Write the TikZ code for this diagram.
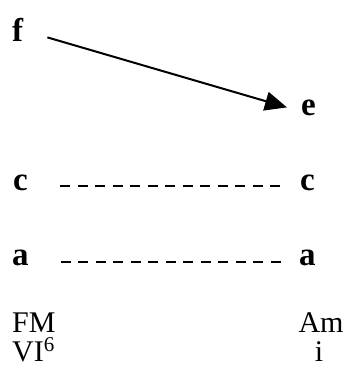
\documentclass[tikz,border=0pt]{standalone}
\usepackage{fontspec}
\setmainfont{Liberation Serif}
\usetikzlibrary{arrows.meta}
\tikzset{
  note/.style={inner sep=0pt,font=\fontsize{33}{36}\selectfont\bfseries},
  chord/.style={inner sep=0pt,font=\fontsize{30}{31}\selectfont},
  move/.style={line width=2pt,-{Triangle[length=22pt,width=19pt]}},
  hold/.style={line width=2.2pt,dash pattern=on 10pt off 7.5pt}
}
\begin{document}
\begin{tikzpicture}[x=1pt,y=-1pt]
        \useasboundingbox (0,0) rectangle (349,368);
        \node[note,anchor=base west] (f) at (12,41) {f};
        \node[note,anchor=base west] (e) at (301,115) {e};
        \node[note,anchor=base west] (cl) at (13,190) {c};
        \node[note,anchor=base west] (cr) at (300,190) {c};
        \node[note,anchor=base west] (al) at (12,265) {a};
        \node[note,anchor=base west] (ar) at (299,265) {a};
        \node[chord,anchor=base west] (fm) at (12,332) {FM};
        \node[chord,anchor=base west] (fmdeg) at (12,361) {VI\textsuperscript{6}};
        \node[chord,anchor=base] (am) at (321,332) {Am};
        \node[chord,anchor=base] (amdeg) at (319,361) {i};
        \draw[move] ([xshift=24pt,yshift=-8pt]f.east) -- ([xshift=-14pt]e.west);
        \draw[hold] ([xshift=32pt,yshift=4pt]cl.base east) -- ([xshift=-15pt,yshift=4pt]cr.base west);
        \draw[hold] ([xshift=32pt,yshift=3pt]al.base east) -- ([xshift=-14pt,yshift=3pt]ar.base west);
    \end{tikzpicture}
\end{document}
